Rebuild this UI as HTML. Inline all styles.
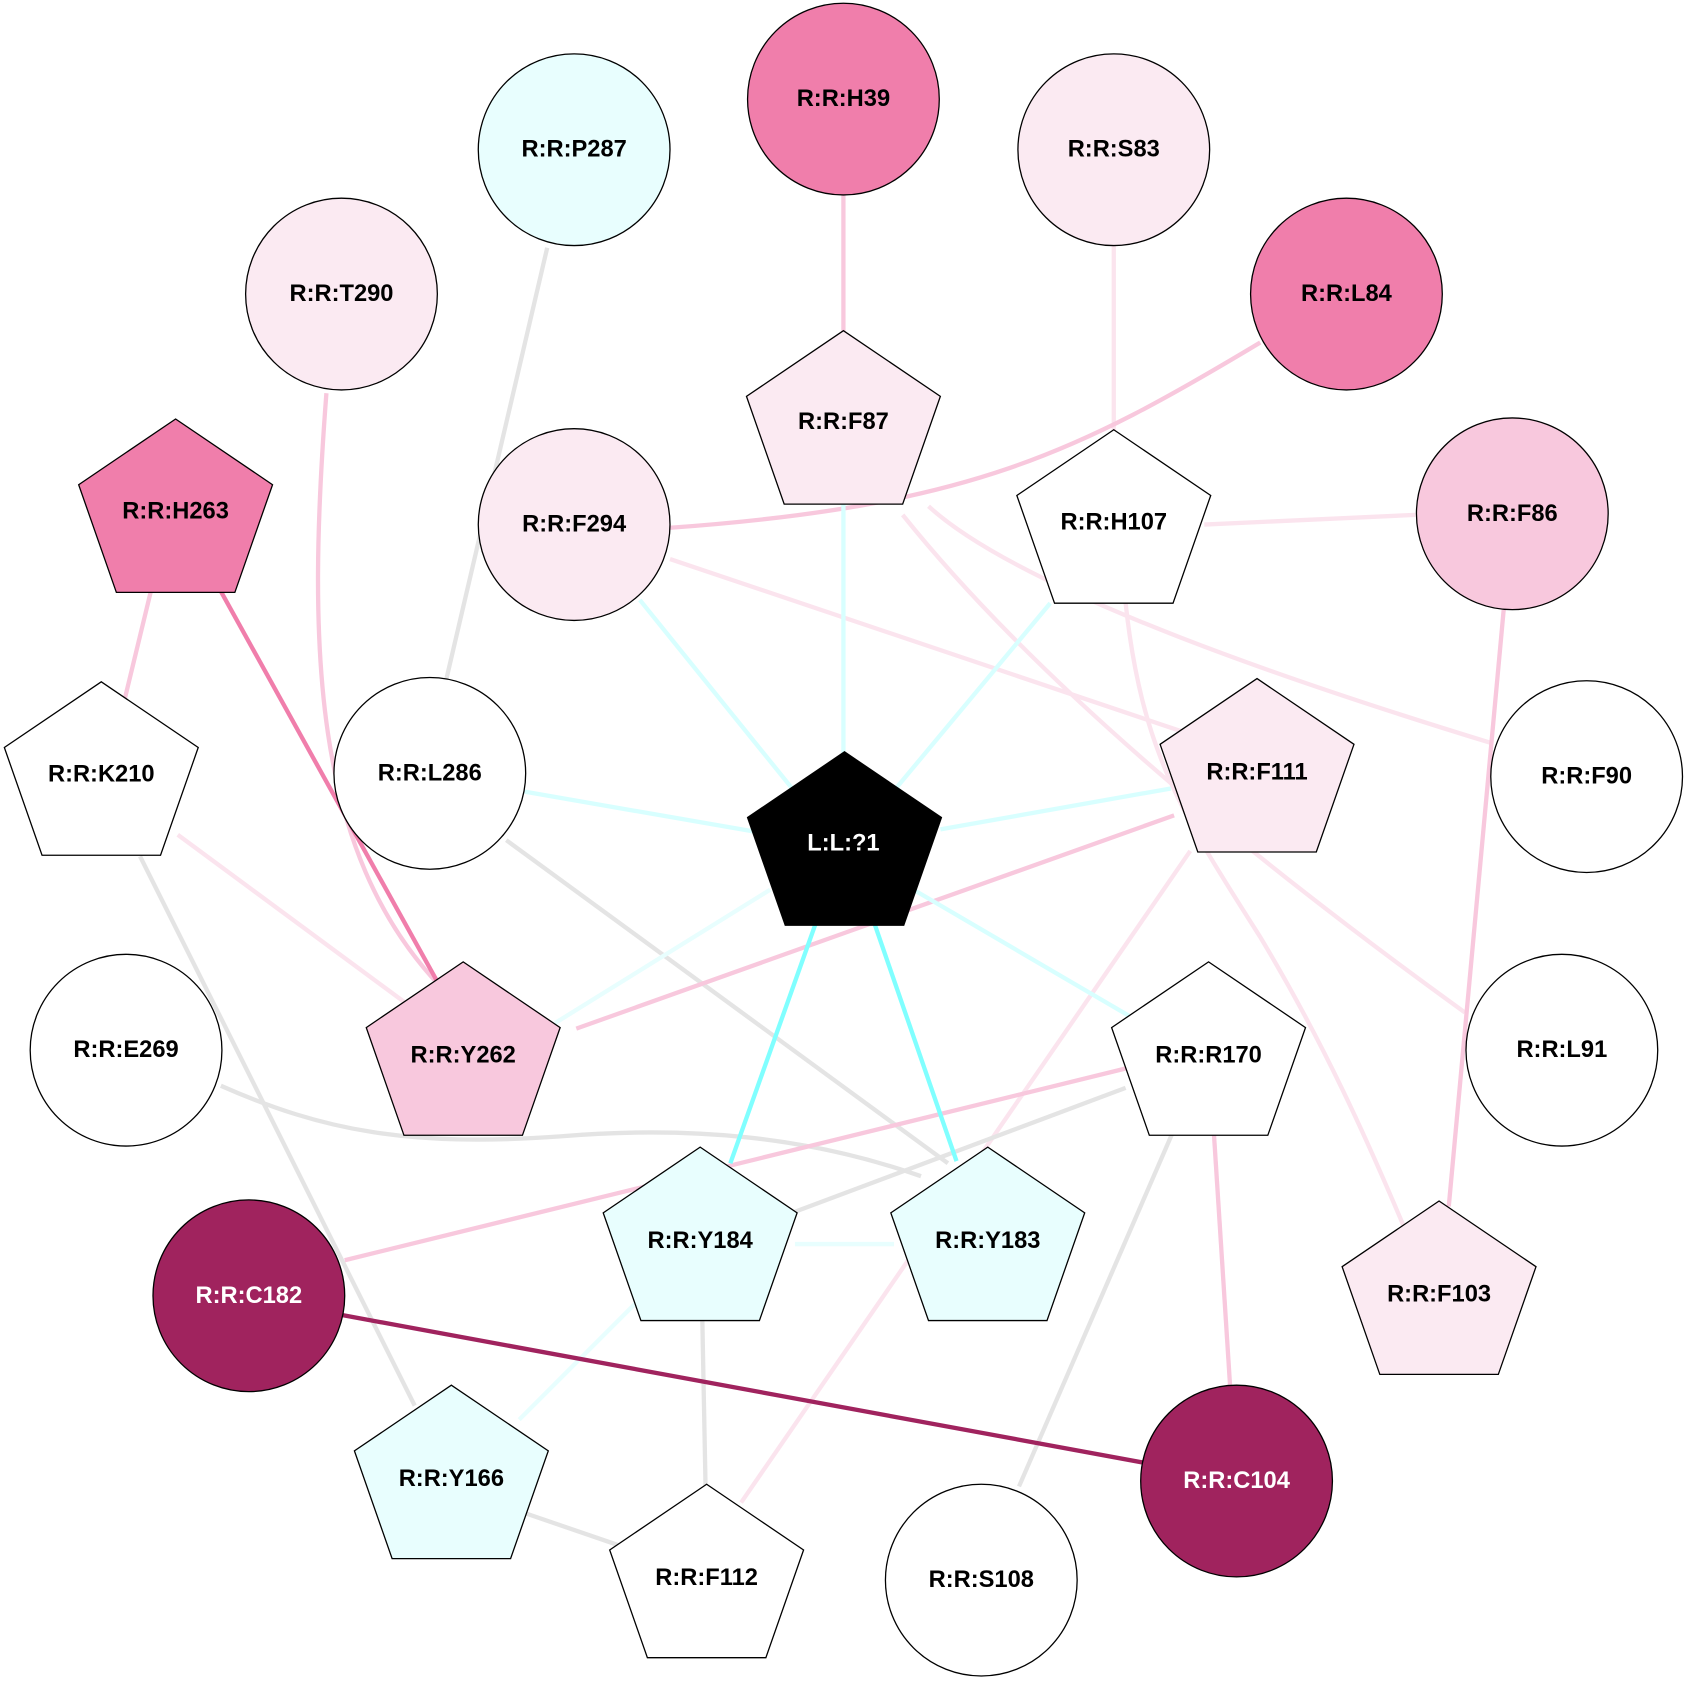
<!DOCTYPE html>
<html><head><meta charset="utf-8"><style>
html,body{margin:0;padding:0;background:#fff;}
svg{display:block;}
text{font-family:"Liberation Sans",Arial,sans-serif;font-weight:bold;font-size:22px;text-anchor:middle;dominant-baseline:central;}
</style></head><body>
<svg width="1689" height="1683" viewBox="0 0 1568 1562.5" xmlns="http://www.w3.org/2000/svg">
<defs>
<polygon id="pg" points="0,-89 90,-28 55,72 -55,72 -90,-28" stroke="#000" stroke-width="1.2"/>
</defs>
<g fill="none" stroke-width="4" stroke-linecap="butt">
<line x1="783" y1="180" x2="783" y2="310" stroke="#f8c8dd"/>
<line x1="1034" y1="228" x2="1034" y2="400" stroke="#fbe4ee"/>
<path d="M1170,318 C1000,420 900,470 622,490" stroke="#f8c8dd"/>
<line x1="508" y1="230" x2="414" y2="632" stroke="#e4e4e4"/>
<path d="M303,365 C285,600 290,790 408,915" stroke="#f8c8dd"/>
<line x1="140" y1="549" x2="116" y2="648" stroke="#f8c8dd"/>
<line x1="165" y1="775" x2="375" y2="930" stroke="#fbe4ee"/>
<line x1="130" y1="795" x2="385" y2="1305" stroke="#e4e4e4"/>
<line x1="622" y1="519" x2="1100" y2="680" stroke="#fbe4ee"/>
<path d="M862,470 Q960,560 1385,690" stroke="#fbe4ee"/>
<path d="M838,478 Q1000,680 1360,940" stroke="#fbe4ee"/>
<path d="M1045,560 C1060,700 1100,760 1170,870 C1230,970 1270,1060 1303,1138" stroke="#fbe4ee"/>
<line x1="1118" y1="487" x2="1314" y2="478" stroke="#fbe4ee"/>
<line x1="1396" y1="566" x2="1345" y2="1120" stroke="#f8c8dd"/>
<line x1="1105" y1="790" x2="688" y2="1395" stroke="#fbe4ee"/>
<line x1="470" y1="780" x2="880" y2="1080" stroke="#e4e4e4"/>
<path d="M205,1008 C300,1050 380,1065 520,1055 C640,1045 750,1055 855,1092" stroke="#e4e4e4"/>
<line x1="1045" y1="1010" x2="738" y2="1125" stroke="#e4e4e4"/>
<line x1="1088" y1="1053" x2="946" y2="1380" stroke="#e4e4e4"/>
<line x1="1127" y1="1053" x2="1142" y2="1287" stroke="#f8c8dd"/>
<line x1="1045" y1="992" x2="320" y2="1170" stroke="#f8c8dd"/>
<line x1="1090" y1="757" x2="535" y2="955" stroke="#f8c8dd"/>
<line x1="652" y1="1225" x2="655" y2="1380" stroke="#e4e4e4"/>
<line x1="488" y1="1405" x2="590" y2="1440" stroke="#e4e4e4"/>
<line x1="738" y1="1155" x2="830" y2="1155" stroke="#e8fefe"/>
<line x1="590" y1="1210" x2="482" y2="1318" stroke="#e8fefe"/>
<line x1="594" y1="557" x2="737" y2="734" stroke="#d8ffff"/>
<line x1="783" y1="467" x2="783" y2="700" stroke="#d8ffff"/>
<line x1="975" y1="560" x2="830" y2="734" stroke="#d8ffff"/>
<line x1="487" y1="735" x2="700" y2="772" stroke="#d8ffff"/>
<line x1="1087" y1="732" x2="873" y2="770" stroke="#d8ffff"/>
<line x1="848" y1="826" x2="1048" y2="943" stroke="#d8ffff"/>
<line x1="715" y1="826" x2="515" y2="950" stroke="#e8fefe"/>
<line x1="757" y1="858" x2="678" y2="1080" stroke="#80ffff"/>
<line x1="812" y1="858" x2="888" y2="1078" stroke="#80ffff"/>
<line x1="205" y1="549" x2="408" y2="915" stroke="#f07eab"/>
<line x1="318" y1="1221" x2="1062" y2="1358" stroke="#a0235e"/>
</g>
<g stroke="#000" stroke-width="1.2">
<circle cx="783" cy="92" r="89" fill="#f07eab"/>
<circle cx="533" cy="139" r="89" fill="#e8fefe"/>
<circle cx="1034" cy="139" r="89" fill="#fbeaf2"/>
<circle cx="317" cy="273" r="89" fill="#fbeaf2"/>
<circle cx="1250" cy="273" r="89" fill="#f07eab"/>
<circle cx="533" cy="487" r="89" fill="#fbeaf2"/>
<circle cx="1404" cy="477" r="89" fill="#f8c8dd"/>
<circle cx="399" cy="718" r="89" fill="#fff"/>
<circle cx="1473" cy="721" r="89" fill="#fff"/>
<circle cx="117" cy="975" r="89" fill="#fff"/>
<circle cx="1450" cy="975" r="89" fill="#fff"/>
<circle cx="231" cy="1203" r="89" fill="#a0235e"/>
<circle cx="1148" cy="1375" r="89" fill="#a0235e"/>
<circle cx="911" cy="1467" r="89" fill="#fff"/>
</g>
<use href="#pg" x="163" y="478" fill="#f07eab"/>
<use href="#pg" x="783" y="396" fill="#fbeaf2"/>
<use href="#pg" x="1034" y="488" fill="#fff"/>
<use href="#pg" x="94" y="722" fill="#fff"/>
<use href="#pg" x="1167" y="719" fill="#fbeaf2"/>
<use href="#pg" x="784" y="787" fill="#000"/>
<use href="#pg" x="430" y="982" fill="#f8c8dd"/>
<use href="#pg" x="1122" y="982" fill="#fff"/>
<use href="#pg" x="650" y="1154" fill="#e8fefe"/>
<use href="#pg" x="917" y="1154" fill="#e8fefe"/>
<use href="#pg" x="1336" y="1204" fill="#fbeaf2"/>
<use href="#pg" x="419" y="1375" fill="#e8fefe"/>
<use href="#pg" x="656" y="1467" fill="#fff"/>
<g fill="#000">
<text x="783" y="92">R:R:H39</text>
<text x="533" y="139">R:R:P287</text>
<text x="1034" y="139">R:R:S83</text>
<text x="317" y="273">R:R:T290</text>
<text x="1250" y="273">R:R:L84</text>
<text x="533" y="487">R:R:F294</text>
<text x="1404" y="477">R:R:F86</text>
<text x="399" y="718">R:R:L286</text>
<text x="1473" y="721">R:R:F90</text>
<text x="117" y="975">R:R:E269</text>
<text x="1450" y="975">R:R:L91</text>
<text x="911" y="1467">R:R:S108</text>
<text x="163" y="475">R:R:H263</text>
<text x="783" y="392">R:R:F87</text>
<text x="1034" y="485">R:R:H107</text>
<text x="94" y="719">R:R:K210</text>
<text x="1167" y="717">R:R:F111</text>
<text x="430" y="980">R:R:Y262</text>
<text x="1122" y="980">R:R:R170</text>
<text x="650" y="1152">R:R:Y184</text>
<text x="917" y="1152">R:R:Y183</text>
<text x="1336" y="1202">R:R:F103</text>
<text x="419" y="1373">R:R:Y166</text>
<text x="656" y="1465">R:R:F112</text>
</g>
<g fill="#fff">
<text x="783" y="783">L:L:?1</text>
<text x="231" y="1203">R:R:C182</text>
<text x="1148" y="1375">R:R:C104</text>
</g>
</svg>
</body></html>
